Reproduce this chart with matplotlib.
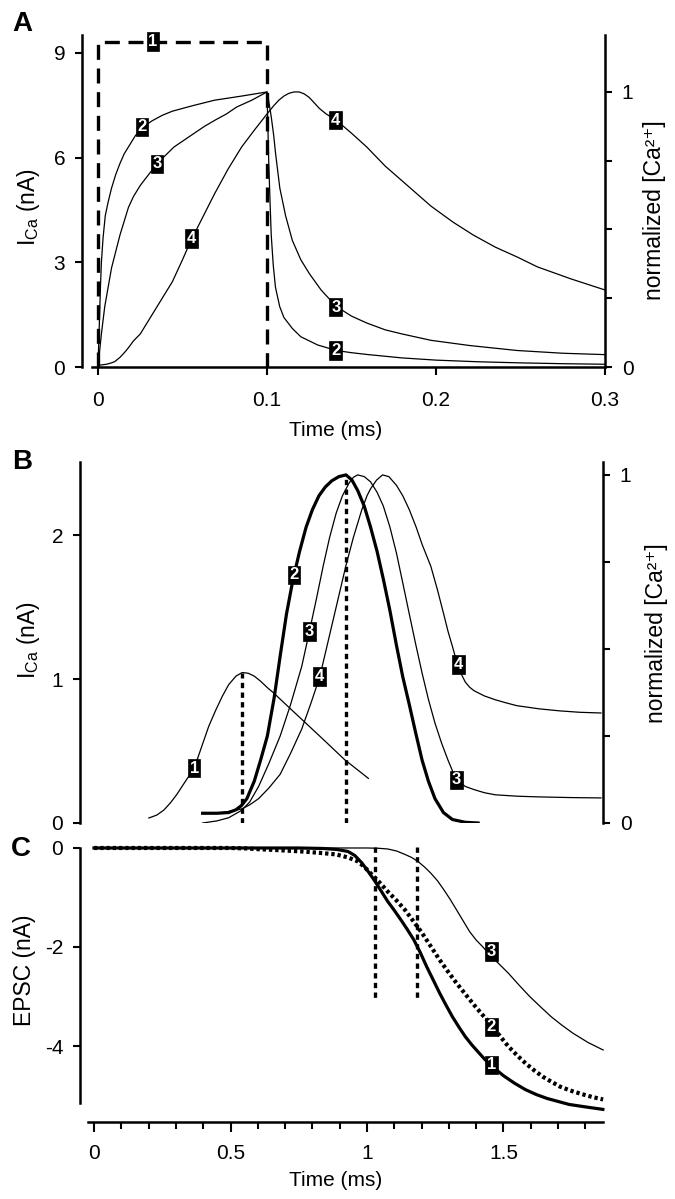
import matplotlib
matplotlib.use('Agg')
import matplotlib.pyplot as plt

plt.rcParams['font.family'] = ['Liberation Sans', 'DejaVu Sans']
plt.rcParams['mathtext.fontset'] = 'custom'
plt.rcParams['mathtext.rm'] = 'Liberation Sans'
plt.rcParams['mathtext.it'] = 'Liberation Sans:italic'
plt.rcParams['mathtext.bf'] = 'Liberation Sans:bold'

# ---------------- Panel A data ----------------
a1_t = [0, 0, 0.1, 0.1]
a1_i = [0, 9.32, 9.32, 0]

a2_t = [0, 0.0005, 0.001, 0.0015, 0.002, 0.003, 0.0043, 0.006, 0.008, 0.0105, 0.013,
        0.0155, 0.018, 0.022, 0.026, 0.032, 0.038, 0.044, 0.056, 0.069, 0.085, 0.1,
        0.1005, 0.101, 0.1018, 0.1025, 0.1037, 0.105, 0.1075, 0.11, 0.115, 0.12, 0.13,
        0.141, 0.15, 0.16, 0.18, 0.2, 0.225, 0.25, 0.275, 0.3]
a2_c = [0, 0.1, 0.2, 0.3, 0.38, 0.47, 0.55, 0.60, 0.65, 0.70, 0.74,
        0.775, 0.80, 0.84, 0.87, 0.895, 0.915, 0.93, 0.95, 0.97, 0.985, 1.0,
        0.88, 0.75, 0.6, 0.48, 0.37, 0.29, 0.22, 0.18, 0.14, 0.11, 0.08,
        0.06, 0.052, 0.045, 0.033, 0.025, 0.019, 0.015, 0.012, 0.01]

a3_t = [0, 0.001, 0.002, 0.004, 0.006, 0.008, 0.0105, 0.013, 0.0155, 0.018, 0.021,
        0.025, 0.03, 0.035, 0.04, 0.045, 0.051, 0.057, 0.063, 0.07, 0.076, 0.082, 0.091, 0.1,
        0.1006, 0.1012, 0.1025, 0.104, 0.105, 0.1076, 0.111, 0.115, 0.12, 0.125, 0.132,
        0.141, 0.15, 0.159, 0.17, 0.18, 0.197, 0.22, 0.248, 0.275, 0.3]
a3_c = [0, 0.06, 0.12, 0.22, 0.29, 0.36, 0.42, 0.48, 0.53, 0.58, 0.62,
        0.66, 0.70, 0.74, 0.77, 0.80, 0.825, 0.85, 0.875, 0.90, 0.92, 0.945, 0.97, 1.0,
        0.985, 0.96, 0.91, 0.84, 0.78, 0.65, 0.55, 0.46, 0.39, 0.34, 0.28,
        0.22, 0.185, 0.16, 0.135, 0.12, 0.097, 0.078, 0.06, 0.05, 0.045]

a4_t = [0, 0.005, 0.008, 0.01, 0.013, 0.016, 0.018, 0.021, 0.025, 0.028, 0.031, 0.038,
        0.044, 0.05, 0.055, 0.062, 0.069, 0.077, 0.085, 0.093, 0.1, 0.104, 0.107, 0.11,
        0.113, 0.116, 0.119, 0.122, 0.125, 0.128, 0.131, 0.135, 0.141, 0.15, 0.159,
        0.17, 0.184, 0.197, 0.21, 0.222, 0.235, 0.248, 0.26, 0.28, 0.3]
a4_c = [0.006, 0.01, 0.015, 0.02, 0.035, 0.055, 0.07, 0.095, 0.12, 0.15, 0.18, 0.25,
        0.31, 0.39, 0.46, 0.545, 0.63, 0.72, 0.80, 0.865, 0.92, 0.95, 0.97, 0.985,
        0.995, 1.0, 1.0, 0.993, 0.98, 0.96, 0.94, 0.92, 0.897, 0.85, 0.80,
        0.73, 0.655, 0.585, 0.527, 0.48, 0.436, 0.40, 0.364, 0.32, 0.28]

a_yticks_left = [0, 3, 6, 9]
a_xticks = [0, 0.1, 0.2, 0.3]
a_xticklabels = ['0', '0.1', '0.2', '0.3']

# ---------------- Panel B data ----------------
b1_t = [0.201, 0.23, 0.256, 0.28, 0.304, 0.335, 0.367, 0.398, 0.42, 0.445, 0.47,
        0.493, 0.52, 0.543, 0.565, 0.587, 0.61, 0.635, 0.66, 0.682, 0.761, 0.840,
        0.918, 1.005]
b1_i = [0.035, 0.055, 0.09, 0.14, 0.20, 0.29, 0.38, 0.55, 0.67, 0.78, 0.88,
        0.96, 1.02, 1.045, 1.04, 1.02, 0.985, 0.94, 0.90, 0.86, 0.72, 0.58,
        0.44, 0.31]

b2_t = [0.398, 0.45, 0.493, 0.52, 0.540, 0.56, 0.587, 0.61, 0.635, 0.66, 0.682, 0.705,
        0.729, 0.753, 0.777, 0.80, 0.824, 0.847, 0.871, 0.897, 0.923, 0.945, 0.966,
        0.99, 1.013, 1.037, 1.060, 1.084, 1.108, 1.131, 1.155, 1.178, 1.202, 1.225,
        1.249, 1.28, 1.313, 1.36, 1.407]
b2_c = [0.028, 0.028, 0.03, 0.038, 0.05, 0.07, 0.12, 0.18, 0.25, 0.36, 0.48, 0.60,
        0.70, 0.78, 0.85, 0.90, 0.94, 0.965, 0.983, 0.995, 1.0, 0.985, 0.955,
        0.91, 0.85, 0.78, 0.70, 0.61, 0.51, 0.42, 0.34, 0.26, 0.18, 0.12,
        0.07, 0.03, 0.01, 0.002, 0.0]

b3_t = [0.398, 0.45, 0.493, 0.540, 0.57, 0.603, 0.64, 0.682, 0.72, 0.761, 0.789, 0.815,
        0.840, 0.863, 0.887, 0.91, 0.934, 0.95, 0.966, 0.99, 1.013, 1.037, 1.060, 1.084,
        1.108, 1.131, 1.155, 1.178, 1.202, 1.225, 1.249, 1.273, 1.297, 1.313, 1.328,
        1.36, 1.392, 1.43, 1.470, 1.55, 1.628, 1.75, 1.857]
b3_c = [0.0, 0.006, 0.015, 0.036, 0.06, 0.105, 0.17, 0.25, 0.34, 0.45, 0.55, 0.645,
        0.74, 0.82, 0.89, 0.94, 0.976, 0.993, 1.0, 0.995, 0.98, 0.95, 0.91, 0.85,
        0.775, 0.69, 0.60, 0.515, 0.43, 0.355, 0.287, 0.23, 0.18, 0.15, 0.124,
        0.105, 0.096, 0.087, 0.081, 0.077, 0.075, 0.073, 0.072]

b4_t = [0.398, 0.47, 0.540, 0.57, 0.603, 0.64, 0.682, 0.72, 0.761, 0.795, 0.827, 0.857,
        0.887, 0.923, 0.950, 0.981, 1.000, 1.013, 1.035, 1.057, 1.08, 1.108, 1.131,
        1.155, 1.18, 1.202, 1.234, 1.258, 1.281, 1.297, 1.313, 1.328, 1.344, 1.36,
        1.376, 1.392, 1.43, 1.470, 1.51, 1.549, 1.63, 1.707, 1.78, 1.857]
b4_c = [0.028, 0.03, 0.04, 0.052, 0.07, 0.10, 0.14, 0.20, 0.27, 0.345, 0.42, 0.52,
        0.62, 0.74, 0.82, 0.90, 0.94, 0.96, 0.985, 1.0, 0.995, 0.97, 0.94,
        0.90, 0.85, 0.80, 0.737, 0.67, 0.60, 0.55, 0.507, 0.465, 0.43, 0.405,
        0.39, 0.38, 0.365, 0.354, 0.345, 0.337, 0.328, 0.322, 0.318, 0.316]

b_peak1_t, b_peak1_i = 0.543, 1.045
b_peak2_t, b_peak2_c = 0.923, 1.0
b_yticks_left = [0, 1, 2]

# ---------------- Panel C data ----------------
c1_t = [0, 0.5, 0.75, 0.84, 0.89, 0.93, 0.955, 0.981, 1.005, 1.029, 1.052, 1.076, 1.10,
        1.124, 1.147, 1.171, 1.195, 1.218, 1.242, 1.266, 1.29, 1.313, 1.337, 1.36,
        1.383, 1.407, 1.43, 1.455, 1.48, 1.50, 1.54, 1.58, 1.62, 1.66, 1.70, 1.74,
        1.80, 1.864]
c1_i = [0, 0, 0, -0.01, -0.03, -0.07, -0.15, -0.30, -0.48, -0.67, -0.87, -1.08, -1.26,
        -1.45, -1.64, -1.85, -2.11, -2.39, -2.66, -2.93, -3.18, -3.41, -3.62, -3.81,
        -3.97, -4.12, -4.26, -4.40, -4.51, -4.60, -4.75, -4.88, -4.98, -5.06, -5.12, -5.18,
        -5.23, -5.28]

c2_t = [0, 0.5, 0.56, 0.587, 0.68, 0.761, 0.83, 0.887, 0.93, 0.966, 0.99, 1.013, 1.045,
        1.076, 1.108, 1.139, 1.17, 1.202, 1.234, 1.266, 1.297, 1.328, 1.36, 1.392,
        1.423, 1.455, 1.487, 1.518, 1.55, 1.581, 1.612, 1.644, 1.675, 1.707, 1.745,
        1.786, 1.825, 1.865]
c2_i = [0, 0, -0.01, -0.02, -0.045, -0.07, -0.10, -0.13, -0.19, -0.27, -0.38, -0.51, -0.69,
        -0.88, -1.06, -1.25, -1.48, -1.72, -1.99, -2.26, -2.50, -2.73, -2.95, -3.17,
        -3.37, -3.57, -3.80, -4.01, -4.19, -4.35, -4.49, -4.62, -4.72, -4.82, -4.90,
        -4.97, -5.03, -5.08]

c3_t = [0, 1.0, 1.04, 1.076, 1.108, 1.139, 1.163, 1.186, 1.21, 1.234, 1.258, 1.281,
        1.305, 1.328, 1.352, 1.376, 1.40, 1.423, 1.455, 1.487, 1.518, 1.557, 1.596,
        1.636, 1.675, 1.714, 1.754, 1.81, 1.865]
c3_i = [0, 0, -0.005, -0.02, -0.06, -0.13, -0.19, -0.27, -0.38, -0.51, -0.66, -0.84,
        -1.04, -1.25, -1.47, -1.69, -1.86, -1.99, -2.19, -2.36, -2.53, -2.77, -3.0,
        -3.21, -3.41, -3.58, -3.74, -3.93, -4.08]

c_marks_t = [1.029, 1.183]
c_marks_range = [0.03, -3.03]
c_yticks = [0, -2, -4]
c_yticklabels = ['0', '-2', '-4']
c_xticks_major = [0, 0.5, 1, 1.5]
c_xticklabels = ['0', '0.5', '1', '1.5']
c_xticks_minor = [0.1, 0.2, 0.3, 0.4, 0.6, 0.7, 0.8, 0.9, 1.1, 1.2, 1.3, 1.4, 1.6, 1.7, 1.8]

# ---------------- layout helpers ----------------
W, H = 675, 1199
fig = plt.figure(figsize=(W / 100, H / 100), dpi=100)


def box(l, t, r, b):
    return [l / W, 1 - b / H, (r - l) / W, (b - t) / H]


def tag(ax, x, y, s):
    ax.text(x, y, s, color='white', fontsize=12, fontweight='bold', ha='center',
            va='center', zorder=6,
            bbox=dict(boxstyle='square,pad=0.1', fc='black', ec='black', lw=0.5))


SP = 1.8
TW = 1.5
THIN = 0.9
THICK = 2.3
FS = 15
LFS = 16.5
CA_LABEL = 'normalized [Ca²⁺]'

# ================= Panel A =================
axA = fig.add_axes(box(82, 35, 605, 367))
axA.set_xlim(-0.00947, 0.3)
axA.set_ylim(0, 9.51)
for s in ['top', 'right']:
    axA.spines[s].set_visible(False)
axA.spines['left'].set_linewidth(SP)
axA.spines['bottom'].set_linewidth(SP)
axA.spines['bottom'].set_bounds(-0.0036, 0.3)
axA.set_yticks(a_yticks_left)
axA.set_xticks(a_xticks)
axA.set_xticklabels(a_xticklabels)
axA.tick_params(axis='y', direction='out', length=5, width=TW, labelsize=FS, pad=7)
axA.tick_params(axis='x', direction='out', length=6, width=TW, labelsize=FS, pad=11)
axA.plot(a1_t, a1_i, color='black', lw=2.4, ls=(0, (4.5, 2.6)), zorder=3)
tag(axA, 0.0325, 9.32, '1')

axA2 = axA.twinx()
axA2.set_ylim(0, 1.207)
for s in ['top', 'left', 'bottom']:
    axA2.spines[s].set_visible(False)
axA2.spines['right'].set_linewidth(SP)
axA2.set_yticks([0, 0.25, 0.5, 0.75, 1])
axA2.set_yticklabels(['0', '', '', '', '1'])
axA2.tick_params(axis='y', direction='out', length=5, width=TW, labelsize=FS, pad=7)
axA2.plot(a2_t, a2_c, color='black', lw=THIN)
axA2.plot(a3_t, a3_c, color='black', lw=THIN)
axA2.plot(a4_t, a4_c, color='black', lw=THIN)
tag(axA2, 0.026, 0.873, '2')
tag(axA2, 0.035, 0.739, '3')
tag(axA2, 0.0553, 0.467, '4')
tag(axA2, 0.1407, 0.897, '4')
tag(axA2, 0.1407, 0.218, '3')
tag(axA2, 0.1407, 0.06, '2')

fig.text(28 / W, 1 - 207 / H, r'I$_{\mathrm{Ca}}$ (nA)', rotation=90, ha='center',
         va='center', fontsize=LFS)
fig.text(654 / W, 1 - 210 / H, CA_LABEL, rotation=90, ha='center',
         va='center', fontsize=LFS)
fig.text(336 / W, 1 - 430 / H, 'Time (ms)', ha='center', va='center', fontsize=FS)
fig.text(22 / W, 1 - 24 / H, 'A', ha='center', va='center', fontsize=20, fontweight='bold')

# ================= Panel B =================
xl = (-0.0513, 1.8645)
axB = fig.add_axes(box(80, 462, 603, 823))
axB.set_xlim(*xl)
axB.set_ylim(0, 2.507)
for s in ['top', 'right', 'bottom']:
    axB.spines[s].set_visible(False)
axB.spines['left'].set_linewidth(SP)
axB.set_xticks([])
axB.set_yticks(b_yticks_left)
axB.tick_params(axis='y', direction='out', length=5, width=TW, labelsize=FS, pad=7)
axB.plot(b1_t, b1_i, color='black', lw=THIN)
axB.plot([b_peak1_t, b_peak1_t], [0, b_peak1_i], color='black', lw=2.4,
         ls=(0, (1.6, 1.3)))
tag(axB, 0.367, 0.38, '1')

axB2 = axB.twinx()
axB2.set_xlim(*xl)
axB2.set_ylim(0, 1.037)
for s in ['top', 'left', 'bottom']:
    axB2.spines[s].set_visible(False)
axB2.spines['right'].set_linewidth(SP)
axB2.set_yticks([0, 0.25, 0.5, 0.75, 1])
axB2.set_yticklabels(['0', '', '', '', '1'])
axB2.tick_params(axis='y', direction='out', length=5, width=TW, labelsize=FS, pad=7)
axB2.plot(b3_t, b3_c, color='black', lw=THIN)
axB2.plot(b4_t, b4_c, color='black', lw=THIN)
axB2.plot(b2_t, b2_c, color='black', lw=THICK)
axB2.plot([b_peak2_t, b_peak2_t], [0, b_peak2_c], color='black', lw=2.4,
          ls=(0, (1.6, 1.3)))
tag(axB2, 0.732, 0.713, '2')
tag(axB2, 0.789, 0.55, '3')
tag(axB2, 0.827, 0.421, '4')
tag(axB2, 1.336, 0.455, '4')
tag(axB2, 1.328, 0.124, '3')

fig.text(28 / W, 1 - 640 / H, r'I$_{\mathrm{Ca}}$ (nA)', rotation=90, ha='center',
         va='center', fontsize=LFS)
fig.text(657 / W, 1 - 633 / H, CA_LABEL, rotation=90, ha='center',
         va='center', fontsize=LFS)
fig.text(22 / W, 1 - 462 / H, 'B', ha='center', va='center', fontsize=20, fontweight='bold')

# ================= Panel C =================
axC = fig.add_axes(box(80, 847, 603, 1122))
axC.set_xlim(*xl)
axC.set_ylim(-5.535, 0.02)
for s in ['top', 'right']:
    axC.spines[s].set_visible(False)
axC.spines['left'].set_linewidth(SP)
axC.spines['bottom'].set_linewidth(SP)
axC.spines['left'].set_bounds(-5.15, 0)
axC.spines['bottom'].set_bounds(-0.022, 1.8645)
axC.set_yticks(c_yticks)
axC.set_yticklabels(c_yticklabels)
axC.set_xticks(c_xticks_major)
axC.set_xticklabels(c_xticklabels)
axC.set_xticks(c_xticks_minor, minor=True)
axC.tick_params(axis='y', direction='out', length=5, width=TW, labelsize=FS, pad=7)
axC.tick_params(axis='x', which='major', direction='out', length=7, width=TW,
                labelsize=FS, pad=9)
axC.tick_params(axis='x', which='minor', direction='out', length=5, width=TW)
axC.plot(c3_t, c3_i, color='black', lw=THIN, clip_on=False)
axC.plot(c2_t, c2_i, color='black', lw=3.0, ls=(0, (0.8, 0.7)), clip_on=False)
axC.plot(c1_t, c1_i, color='black', lw=THICK, clip_on=False)
for tm in c_marks_t:
    axC.plot([tm, tm], c_marks_range, color='black', lw=2.4, ls=(0, (1.6, 1.3)))
tag(axC, 1.455, -2.09, '3')
tag(axC, 1.455, -3.61, '2')
tag(axC, 1.455, -4.38, '1')

fig.text(24 / W, 1 - 970 / H, 'EPSC (nA)', rotation=90, ha='center', va='center',
         fontsize=LFS)
fig.text(336 / W, 1 - 1180 / H, 'Time (ms)', ha='center', va='center', fontsize=FS)
fig.text(21 / W, 1 - 849 / H, 'C', ha='center', va='center', fontsize=20, fontweight='bold')

fig.savefig('out.png', dpi=100)
